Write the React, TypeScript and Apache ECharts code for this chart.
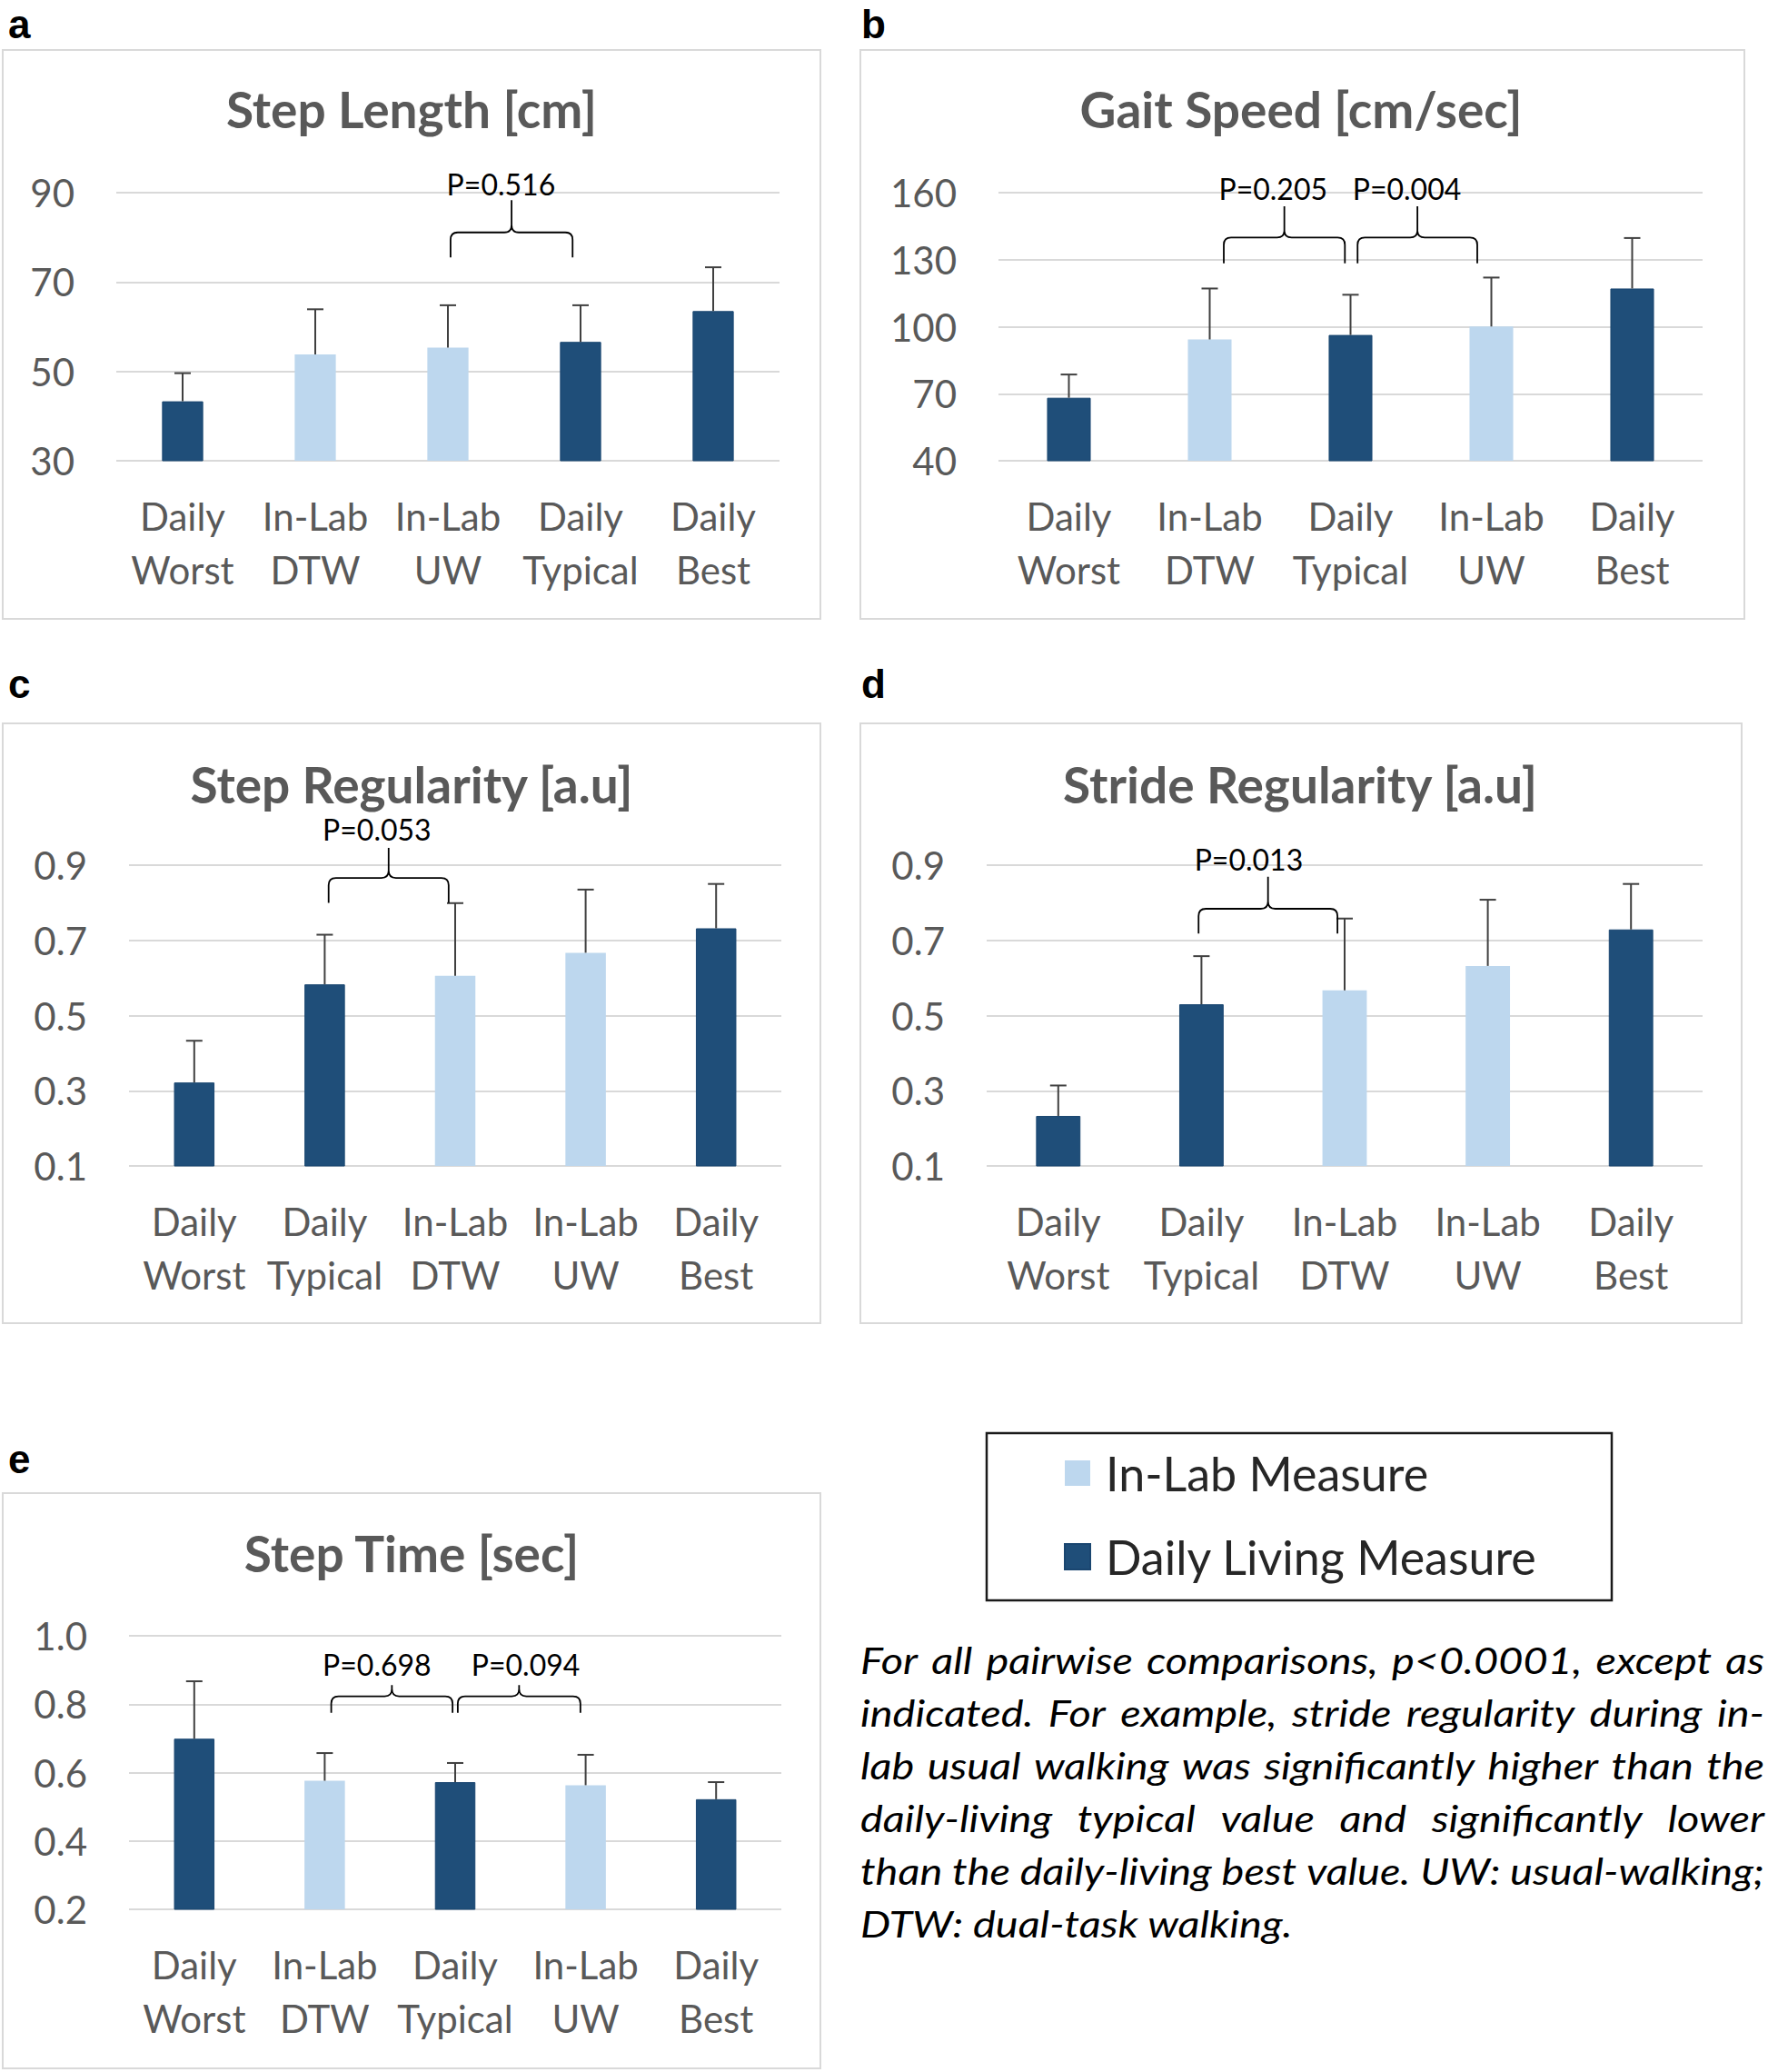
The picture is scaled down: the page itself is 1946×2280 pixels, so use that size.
import React, { useEffect, useRef } from "react";
import * as echarts from "echarts";

const FONT = "Lato";
const DARK = "#1F4E79";
const LIGHT = "#BDD7EE";
const AXIS_TEXT = "#595959";
const GRID_LINE = "#D9D9D9";

// ---------- data ----------
// a: Step Length [cm]
const catsA = ["Daily\nWorst", "In-Lab\nDTW", "In-Lab\nUW", "Daily\nTypical", "Daily\nBest"];
const typeA = ["daily", "lab", "lab", "daily", "daily"];
const meanA = [43.3, 53.8, 55.3, 56.6, 63.5];
const sdA = [6.3, 10.1, 9.5, 8.2, 9.8];
const axisA = { min: 30, max: 90, interval: 20, decimals: 0 };
const bracesA = [{ x1: 2.02, x2: 2.94, leg: 75.5, bar: 81.1, peak: 88.3, label: "P=0.516", lx: 2.4, ly: 91.9 }];

// b: Gait Speed [cm/sec]
const catsB = ["Daily\nWorst", "In-Lab\nDTW", "Daily\nTypical", "In-Lab\nUW", "Daily\nBest"];
const typeB = ["daily", "lab", "daily", "lab", "daily"];
const meanB = [68.2, 94.3, 96.3, 100.1, 117.1];
const sdB = [10.4, 22.8, 18.0, 21.9, 22.6];
const axisB = { min: 40, max: 160, interval: 30, decimals: 0 };
const bracesB = [
  { x1: 1.1, x2: 1.96, leg: 128.4, bar: 139.9, peak: 153.9, label: "P=0.205", lx: 1.45, ly: 162 },
  { x1: 2.05, x2: 2.9, leg: 128.4, bar: 139.9, peak: 153.9, label: "P=0.004", lx: 2.4, ly: 162 },
];

// c: Step Regularity [a.u]
const catsC = ["Daily\nWorst", "Daily\nTypical", "In-Lab\nDTW", "In-Lab\nUW", "Daily\nBest"];
const typeC = ["daily", "daily", "lab", "lab", "daily"];
const meanC = [0.322, 0.583, 0.606, 0.667, 0.732];
const sdC = [0.111, 0.132, 0.193, 0.168, 0.118];
const axisC = { min: 0.1, max: 0.9, interval: 0.2, decimals: 1 };
const bracesC = [{ x1: 1.03, x2: 1.95, leg: 0.8, bar: 0.866, peak: 0.946, label: "P=0.053", lx: 1.4, ly: 0.995 }];

// d: Stride Regularity [a.u]
const catsD = ["Daily\nWorst", "Daily\nTypical", "In-Lab\nDTW", "In-Lab\nUW", "Daily\nBest"];
const typeD = ["daily", "daily", "lab", "lab", "daily"];
const meanD = [0.233, 0.53, 0.567, 0.632, 0.729];
const sdD = [0.081, 0.128, 0.191, 0.176, 0.121];
const axisD = { min: 0.1, max: 0.9, interval: 0.2, decimals: 1 };
const bracesD = [{ x1: 0.98, x2: 1.95, leg: 0.718, bar: 0.784, peak: 0.869, label: "P=0.013", lx: 1.33, ly: 0.915 }];

// e: Step Time [sec]
const catsE = ["Daily\nWorst", "In-Lab\nDTW", "Daily\nTypical", "In-Lab\nUW", "Daily\nBest"];
const typeE = ["daily", "lab", "daily", "lab", "daily"];
const meanE = [0.699, 0.576, 0.572, 0.563, 0.522];
const sdE = [0.168, 0.081, 0.056, 0.089, 0.05];
const axisE = { min: 0.2, max: 1.0, interval: 0.2, decimals: 1 };
const bracesE = [
  { x1: 1.05, x2: 1.98, leg: 0.775, bar: 0.823, peak: 0.856, label: "P=0.698", lx: 1.4, ly: 0.916 },
  { x1: 2.02, x2: 2.96, leg: 0.775, bar: 0.823, peak: 0.856, label: "P=0.094", lx: 2.54, ly: 0.916 },
];

const legendNames = ["In-Lab Measure", "Daily Living Measure"];

const captionLines = [
  "For all pairwise comparisons, p<0.0001, except as",
  "indicated. For example, stride regularity during in-",
  "lab usual walking was significantly higher than the",
  "daily-living typical value and significantly lower",
  "than the daily-living best value. UW: usual-walking;",
  "DTW: dual-task walking.",
];

// ---------- layout ----------
const panels = [
  {
    letter: "a", title: "Step Length [cm]", cats: catsA, types: typeA, mean: meanA, sd: sdA, axis: axisA, braces: bracesA,
    box: [3, 55, 903, 681], grid: { left: 128, top: 212, width: 730, height: 295 }, titlePos: [453, 120], letterPos: [9, 26],
  },
  {
    letter: "b", title: "Gait Speed [cm/sec]", cats: catsB, types: typeB, mean: meanB, sd: sdB, axis: axisB, braces: bracesB,
    box: [947, 55, 1920, 681], grid: { left: 1099, top: 212, width: 775, height: 295 }, titlePos: [1432, 120], letterPos: [948, 26],
  },
  {
    letter: "c", title: "Step Regularity [a.u]", cats: catsC, types: typeC, mean: meanC, sd: sdC, axis: axisC, braces: bracesC,
    box: [3, 796, 903, 1456], grid: { left: 142, top: 952, width: 718, height: 331 }, titlePos: [453, 863], letterPos: [9, 752],
  },
  {
    letter: "d", title: "Stride Regularity [a.u]", cats: catsD, types: typeD, mean: meanD, sd: sdD, axis: axisD, braces: bracesD,
    box: [947, 796, 1917, 1456], grid: { left: 1086, top: 952, width: 788, height: 331 }, titlePos: [1431, 863], letterPos: [948, 752],
  },
  {
    letter: "e", title: "Step Time [sec]", cats: catsE, types: typeE, mean: meanE, sd: sdE, axis: axisE, braces: bracesE,
    box: [3, 1643, 903, 2276], grid: { left: 142, top: 1800, width: 718, height: 301 }, titlePos: [453, 1709], letterPos: [9, 1605],
  },
];

const LEGEND_BOX = [1086, 1577, 1774, 1761];
const CAP_LEFT = 947;
const CAP_RIGHT = 1942;
const CAP_TOP = 1826;
const CAP_STEP = 58;
const CAP_FS = 40;
const CAP_LAST_WIDTH = 476;

function textStyle(extra: any) {
  return { textAlign: extra.align, textVerticalAlign: extra.verticalAlign, ...extra };
}

function captionGraphics(): any[] {
  const canvas = document.createElement("canvas");
  const ctx = canvas.getContext("2d")!;
  const fs = CAP_FS;
  const measure = (t: string) => {
    ctx.font = `italic ${fs}px ${FONT}`;
    return ctx.measureText(t).width;
  };
  const W = CAP_RIGHT - CAP_LEFT;
  // horizontal condensing so that the glyphs match the narrow original face
  let sx = CAP_LAST_WIDTH / measure(captionLines[captionLines.length - 1]);
  captionLines.slice(0, -1).forEach((l) => {
    const words = l.split(" ");
    const sum = words.reduce((s, w) => s + measure(w), 0);
    const maxSx = (W - 0.16 * fs * (words.length - 1)) / sum;
    sx = Math.min(sx, maxSx);
  });
  const els: any[] = [];
  captionLines.forEach((line, li) => {
    const y = CAP_TOP + li * CAP_STEP;
    const base = { fill: "#000", fontSize: fs, fontFamily: FONT, fontStyle: "italic", align: "left", verticalAlign: "middle" };
    if (li === captionLines.length - 1) {
      els.push({ type: "text", x: CAP_LEFT, y, scaleX: sx, style: textStyle({ ...base, text: line }) });
      return;
    }
    const words = line.split(" ");
    const ws = words.map((w) => measure(w) * sx);
    const total = ws.reduce((s, v) => s + v, 0);
    const gap = (W - total) / (words.length - 1);
    let x = CAP_LEFT;
    words.forEach((w, i) => {
      els.push({ type: "text", x, y, scaleX: sx, style: textStyle({ ...base, text: w }) });
      x += ws[i] + gap;
    });
  });
  return els;
}

function buildOption() {
  const grid: any[] = [];
  const xAxis: any[] = [];
  const yAxis: any[] = [];
  const series: any[] = [];
  const title: any[] = [];
  const graphic: any[] = [];

  panels.forEach((p, pi) => {
    grid.push({ ...p.grid, containLabel: false });
    xAxis.push({
      type: "category",
      gridIndex: pi,
      data: p.cats,
      axisLine: { show: false },
      axisTick: { show: false },
      splitLine: { show: false },
      axisLabel: { interval: 0, margin: 31, fontSize: 42, lineHeight: 59, fontFamily: FONT, color: AXIS_TEXT },
    });
    yAxis.push({
      type: "value",
      gridIndex: pi,
      min: p.axis.min,
      max: p.axis.max,
      interval: p.axis.interval,
      axisLine: { show: false },
      axisTick: { show: false },
      splitLine: { show: true, lineStyle: { color: GRID_LINE, width: 2 } },
      axisLabel: {
        margin: 46,
        fontSize: 42,
        fontFamily: FONT,
        color: AXIS_TEXT,
        formatter: (v: number) => v.toFixed(p.axis.decimals),
      },
    });
    series.push({
      type: "bar",
      name: legendNames[0],
      xAxisIndex: pi,
      yAxisIndex: pi,
      barWidth: "31%",
      barGap: "-100%",
      itemStyle: { color: LIGHT },
      data: p.mean.map((m, i) => (p.types[i] === "lab" ? m : "-")),
      z: 2,
    });
    series.push({
      type: "bar",
      name: legendNames[1],
      xAxisIndex: pi,
      yAxisIndex: pi,
      barWidth: "31%",
      barGap: "-100%",
      itemStyle: { color: DARK, borderColor: "#1A4670", borderWidth: 1 },
      data: p.mean.map((m, i) => (p.types[i] === "daily" ? m : "-")),
      z: 2,
    });
    // error bars (upper only)
    series.push({
      type: "custom",
      xAxisIndex: pi,
      yAxisIndex: pi,
      silent: true,
      clip: false,
      z: 5,
      encode: { x: 0, y: [1, 2] },
      data: p.mean.map((m, i) => [i, m, m + p.sd[i]]),
      renderItem: (params: any, api: any) => {
        const a = api.coord([api.value(0), api.value(1)]);
        const b = api.coord([api.value(0), api.value(2)]);
        const st = { stroke: "#404040", lineWidth: 2 };
        return {
          type: "group",
          children: [
            { type: "line", shape: { x1: a[0], y1: a[1], x2: b[0], y2: b[1] }, style: st },
            { type: "line", shape: { x1: b[0] - 9, y1: b[1], x2: b[0] + 9, y2: b[1] }, style: st },
          ],
        };
      },
    });
    // significance braces
    series.push({
      type: "custom",
      xAxisIndex: pi,
      yAxisIndex: pi,
      silent: true,
      clip: false,
      z: 6,
      encode: { x: 0, y: 1 },
      data: p.braces.map((b) => [Math.round(b.x1), b.bar]),
      renderItem: (params: any, api: any) => {
        const b = p.braces[params.dataIndex];
        const c0 = api.coord([0, b.bar]);
        const c1 = api.coord([1, b.bar]);
        const step = c1[0] - c0[0];
        const px = (f: number) => c0[0] + f * step;
        const py = (v: number) => api.coord([0, v])[1];
        const x1 = px(b.x1);
        const x2 = px(b.x2);
        const xm = (x1 + x2) / 2;
        const yL = py(b.leg);
        const yB = py(b.bar);
        const yP = py(b.peak);
        const r = Math.min(8, (yL - yB) * 0.8);
        const d =
          `M${x1},${yL} L${x1},${yB + r} Q${x1},${yB} ${x1 + r},${yB} L${xm - r},${yB} Q${xm},${yB} ${xm},${yB - r} L${xm},${yP} ` +
          `M${xm},${yB - r} Q${xm},${yB} ${xm + r},${yB} L${x2 - r},${yB} Q${x2},${yB} ${x2},${yB + r} L${x2},${yL}`;
        return {
          type: "group",
          children: [
            { type: "path", shape: { pathData: d }, style: { stroke: "#000", fill: "none", lineWidth: 1.8 } },
            {
              type: "text",
              x: px(b.lx),
              y: py(b.ly),
              style: textStyle({ text: b.label, fill: "#000", fontSize: 32, fontFamily: FONT, align: "center", verticalAlign: "middle" }),
            },
          ],
        };
      },
    });
    title.push({
      text: p.title,
      left: p.titlePos[0],
      top: p.titlePos[1],
      textAlign: "center",
      textVerticalAlign: "middle",
      padding: 0,
      textStyle: { fontSize: 55, fontWeight: "bold", fontFamily: FONT, color: AXIS_TEXT },
    });
    graphic.push({
      type: "rect",
      silent: true,
      shape: { x: p.box[0], y: p.box[1], width: p.box[2] - p.box[0], height: p.box[3] - p.box[1] },
      style: { fill: "none", stroke: GRID_LINE, lineWidth: 2 },
      z: 0,
    });
    graphic.push({
      type: "text",
      x: p.letterPos[0],
      y: p.letterPos[1],
      style: textStyle({ text: p.letter, fill: "#000", fontSize: 44, fontWeight: "bold", fontFamily: "Liberation Sans", align: "left", verticalAlign: "middle" }),
    });
  });

  graphic.push({
    type: "rect",
    silent: true,
    shape: { x: LEGEND_BOX[0], y: LEGEND_BOX[1], width: LEGEND_BOX[2] - LEGEND_BOX[0], height: LEGEND_BOX[3] - LEGEND_BOX[1] },
    style: { fill: "none", stroke: "#1a1a1a", lineWidth: 2.5 },
  });
  captionGraphics().forEach((g) => graphic.push(g));

  return {
    animation: false,
    backgroundColor: "#ffffff",
    title,
    grid,
    xAxis,
    yAxis,
    series,
    legend: {
      data: legendNames,
      orient: "vertical",
      left: 1171,
      top: 1595,
      padding: 0,
      itemWidth: 28,
      itemHeight: 28,
      itemGap: 40,
      icon: "rect",
      selectedMode: false,
      textStyle: { fontSize: 52, fontFamily: FONT, color: "#262626", lineHeight: 52, padding: [0, 0, 0, 12] },
    },
    graphic: { elements: graphic },
  };
}

export default function App() {
  const ref = useRef<HTMLDivElement>(null);
  useEffect(() => {
    const chart = echarts.init(ref.current!, null, { renderer: "svg", width: 1946, height: 2280 });
    chart.setOption(buildOption() as any);
    return () => chart.dispose();
  }, []);
  return (
    <div
      ref={ref}
      style={{ position: "absolute", left: 0, top: 0, width: 1946, height: 2280, background: "#fff" }}
    />
  );
}
